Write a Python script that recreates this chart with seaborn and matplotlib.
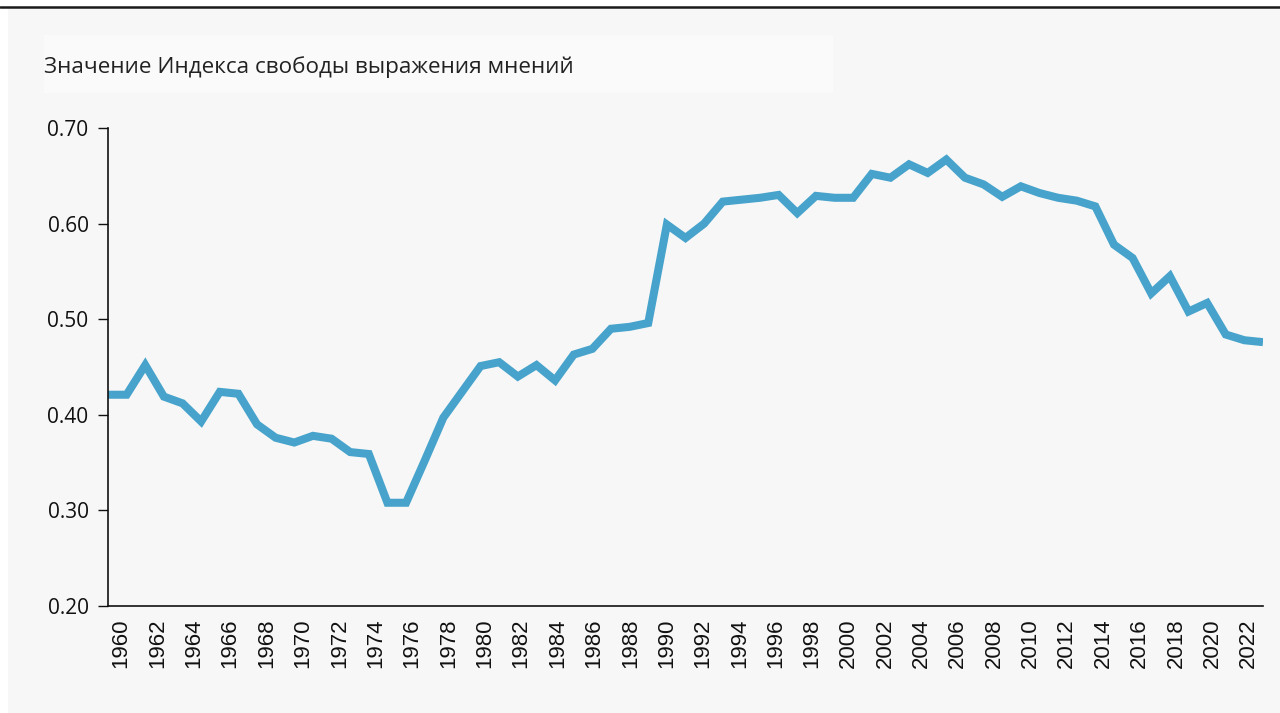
import matplotlib
matplotlib.use("Agg")
import matplotlib.pyplot as plt
import matplotlib.transforms as mtransforms
from matplotlib.patches import Rectangle
from matplotlib.lines import Line2D
import numpy as np
import pandas as pd
import seaborn as sns

# ---- data ----
years = list(range(1960, 2023))
values = [
    0.421, 0.421, 0.452, 0.419, 0.412, 0.393, 0.424, 0.422, 0.390, 0.376,
    0.371, 0.378, 0.375, 0.361, 0.359, 0.308, 0.308, 0.352, 0.397, 0.424,
    0.451, 0.455, 0.440, 0.452, 0.436, 0.463, 0.469, 0.490, 0.492, 0.496,
    0.599, 0.585, 0.600, 0.623, 0.625, 0.627, 0.630, 0.611, 0.629, 0.627,
    0.627, 0.652, 0.648, 0.662, 0.653, 0.667, 0.648, 0.641, 0.628, 0.639,
    0.632, 0.627, 0.624, 0.618, 0.578, 0.564, 0.527, 0.545, 0.508, 0.517,
    0.484, 0.478, 0.476,
]
title = "Значение Индекса свободы выражения мнений"
y_ticks = [0.20, 0.30, 0.40, 0.50, 0.60, 0.70]
x_tick_years = list(range(1960, 2023, 2))

df = pd.DataFrame({"year": years, "value": values})

sns.set_theme(style="white")
plt.rcParams["font.family"] = ["Open Sans", "DejaVu Sans"]

W, H = 1280, 713
fig = plt.figure(figsize=(W / 100, H / 100), dpi=100, facecolor="white")

# background panel and top rule
fig.patches.append(Rectangle((8 / W, 0), 1 - 8 / W, (H - 8) / H,
                             transform=fig.transFigure, facecolor="#f7f7f7",
                             edgecolor="none", zorder=-10))
fig.lines.append(Line2D([0, 1], [1 - 7 / H, 1 - 7 / H], transform=fig.transFigure,
                        color="#1a1a1a", linewidth=1.8))
# title box
fig.patches.append(Rectangle((44 / W, 1 - 93 / H), (833 - 44) / W, (93 - 35) / H,
                             transform=fig.transFigure, facecolor="#fafafa",
                             edgecolor="none", zorder=-5))
fig.text(44 / W, 1 - 67 / H, title, fontsize=16.2, color="#222222",
         va="center", ha="left", family=["Open Sans", "DejaVu Sans"])

ax = fig.add_axes([108 / W, 1 - 606 / H, (1263 - 108) / W, (606 - 128) / H])
ax.set_facecolor("none")

sns.lineplot(data=df, x="year", y="value", ax=ax, color="#47a3cb",
             linewidth=5.8, solid_joinstyle="miter", solid_capstyle="butt")

ax.set_xlim(1960, 2022)
ax.set_ylim(0.2, 0.7)
ax.set_xlabel("")
ax.set_ylabel("")

ax.set_yticks(y_ticks)
ax.set_yticklabels([f"{v:.2f}" for v in y_ticks], fontsize=15, color="#111111")
ax.set_xticks(x_tick_years)
ax.set_xticklabels([str(y) for y in x_tick_years], rotation=90, fontsize=16,
                   color="#111111", family=["Liberation Sans", "DejaVu Sans"])

ax.tick_params(axis="y", left=True, length=7, width=1, color="#111111", pad=7)
ax.tick_params(axis="x", bottom=False, length=0, pad=9)

for side in ["top", "right"]:
    ax.spines[side].set_visible(False)
for side in ["left", "bottom"]:
    ax.spines[side].set_color("#111111")
    ax.spines[side].set_linewidth(1.2)

# shift rotated year labels slightly (reference places them on a slightly narrower span)
for lab, yr in zip(ax.get_xticklabels(), x_tick_years):
    dx = (13 - (yr - 1960) * 0.44) / 100.0
    lab.set_transform(lab.get_transform() +
                      mtransforms.ScaledTranslation(dx, 0, fig.dpi_scale_trans))

fig.savefig("out.png", dpi=100, facecolor=fig.get_facecolor())
